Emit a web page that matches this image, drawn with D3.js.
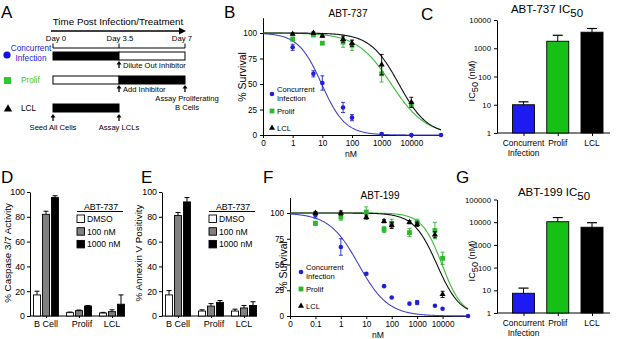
<!DOCTYPE html>
<html>
<head>
<meta charset="utf-8">
<script src="https://cdn.jsdelivr.net/npm/d3@7"></script>
<style>
body { margin: 0; background: #fff; }
svg text { font-family: "Liberation Sans", Arial, sans-serif; }
</style>
</head>
<body>
<script>
// ---- DATA ----
// panel A timeline
const timelineDays = [0, 3.5, 7];
const timelineDayLabels = ["Day 0", "Day 3.5", "Day 7"];
const conditionNames = ["Concurrent Infection", "Prolif", "LCL"];

// panel B (ABT-737 dose response)
const doseB_conc = [1, 5, 10, 50, 100, 1000, 10000, 100000];
const survB_conc = [86, 60, 51, 27, 17, 1, 0, 0];
const errB_conc = [3, 3, 7, 5, 3, 1, 0.5, 0];
const doseB = [1, 5, 10, 50, 100, 1000, 10000];
const survB_prolif = [94, 98, 90, 91, 88, 60, 30];
const errB_prolif = [2, 1, 1, 5, 5, 8, 3];
const survB_lcl = [99, 100, 97, 94, 90, 69, 32];
const errB_lcl = [1, 1, 1, 3, 3, 10, 5];
// fitted curve params [IC50, hill] conc / prolif / lcl
const fitB = [[9.5, 1.1], [2100, 0.75], [3800, 0.9]];

// panel C (ABT-737 IC50)
const icCats = ["Concurrent Infection", "Prolif", "LCL"];
const ic50_737 = [10, 1770, 3700];
const ic50_737_hi = [12.7, 2880, 5000];

// panel D / E
const groups = ["B Cell", "Prolif", "LCL"];
const treatments = ["DMSO", "100 nM", "1000 nM"];
const caspase = [[17, 82, 95.5], [2.7, 4.3, 8], [2.4, 3.5, 9.5]];
const caspaseErr = [[3, 2.5, 1.5], [0.5, 0.5, 0.5], [0.5, 1.5, 7.5]];
const annexin = [[17, 81, 92], [4, 8, 11], [4, 6.5, 8.5]];
const annexinErr = [[3.5, 2.5, 3.5], [1, 2, 1.5], [1.5, 2, 3]];

// panel F (ABT-199 dose response)
const doseF_conc = [0.1, 1, 10, 50, 100, 500, 1000, 5000, 10000, 100000];
const survF_conc = [98, 67, 41, 29, 18, 12, 13, 10, 7, 0];
const errF_conc = [3, 8, 1, 0.5, 0.5, 0.5, 2, 0.5, 0.5, 0];
const doseF = [0.1, 1, 10, 50, 100, 500, 1000, 5000, 10000];
const survF_prolif = [90, 96, 101, 84, 90, 81, 91, 83, 56];
const errF_prolif = [2, 3, 5, 3, 4, 4, 3, 8, 6];
const survF_lcl = [100, 100, 96, 92, 88, 91, 89, 79, 21];
const errF_lcl = [1, 2, 2, 1.5, 3, 1.5, 2, 3, 3];
const fitF = [[5, 0.75], [9500, 1.1], [6000, 0.95]];

// panel G (ABT-199 IC50)
const ic50_199 = [7.4, 10500, 6000];
const ic50_199_hi = [12.5, 16000, 9500];

// ---- STYLE ----
const BLUE = "#1f1fd6", GREEN = "#2cb82c", BLACK = "#000";
const LINE_BLUE = "#4646c8", LINE_GREEN = "#3cbc3c";
const FONT = "'Liberation Sans', Arial, sans-serif";

const svg = d3.select("body").append("svg").attr("width", 617).attr("height", 339);

function letter(txt, x, y) {
  svg.append("text").attr("x", x).attr("y", y).attr("font-size", 17).text(txt);
}
function styleAxis(g, fs) {
  g.selectAll("text").attr("font-family", FONT).attr("font-size", fs).attr("fill", "#000");
  g.selectAll("path,line").attr("stroke", "#000").attr("stroke-width", 1);
}

// ---------------- PANEL A ----------------
letter("A", 1, 18);
const A = svg.append("g");
const tl = d3.scaleLinear().domain([0, 7]).range([53, 185]);

A.append("text").attr("x", 118).attr("y", 25).attr("text-anchor", "middle")
  .attr("font-size", 9.8).text("Time Post Infection/Treatment");
A.append("line").attr("x1", 51).attr("x2", 181).attr("y1", 31).attr("y2", 31)
  .attr("stroke", "#000").attr("stroke-width", 1.6);
A.append("path").attr("d", "M186,31 L179,27.5 L179,34.5 Z").attr("fill", "#000");

A.selectAll(".day").data(timelineDays).enter().append("text")
  .attr("x", (d, i) => tl(d) + (i == 0 ? 3 : i == 2 ? -3 : 1))
  .attr("y", 41).attr("text-anchor", "middle").attr("font-size", 7.8)
  .text((d, i) => timelineDayLabels[i]);
A.append("line").attr("x1", tl(0)).attr("x2", tl(7)).attr("y1", 48).attr("y2", 48).attr("stroke", "#000");
A.selectAll(".dtick").data(timelineDays).enter().append("line")
  .attr("x1", d => tl(d)).attr("x2", d => tl(d)).attr("y1", 43.5).attr("y2", 48).attr("stroke", "#000");

const rowY = [52, 76, 104];
const segments = [
  [[0, 3.5, "#000"], [3.5, 7, "#fff"]],
  [[0, 3.5, "#fff"], [3.5, 7, "#000"]],
  [[0, 3.5, "#000"]]
];
segments.forEach((segs, r) => {
  segs.forEach(s => {
    A.append("rect").attr("x", tl(s[0])).attr("y", rowY[r])
      .attr("width", tl(s[1]) - tl(s[0])).attr("height", 8)
      .attr("fill", s[2]).attr("stroke", "#000").attr("stroke-width", 1);
  });
});
// row labels + symbols
A.append("circle").attr("cx", 7).attr("cy", 55).attr("r", 3.6).attr("fill", "#1010e6");
A.append("text").attr("x", 31).attr("y", 51).attr("text-anchor", "middle").attr("font-size", 8.2)
  .attr("fill", "#2020d8").text("Concurrent");
A.append("text").attr("x", 31).attr("y", 61).attr("text-anchor", "middle").attr("font-size", 8.2)
  .attr("fill", "#2020d8").text("Infection");
A.append("rect").attr("x", 4).attr("y", 77).attr("width", 7).attr("height", 7).attr("fill", "#2ec82e");
A.append("text").attr("x", 21).attr("y", 83).attr("font-size", 8.2).attr("fill", "#2ec82e").text(conditionNames[1]);
A.append("path").attr("d", d3.symbol(d3.symbolTriangle, 30)()).attr("transform", "translate(8,109)");
A.append("text").attr("x", 21).attr("y", 111).attr("font-size", 8.2).text(conditionNames[2]);

function upArrow(x, y1, y2) {
  A.append("line").attr("x1", x).attr("x2", x).attr("y1", y1 + 2).attr("y2", y2)
    .attr("stroke", "#000").attr("stroke-width", 1.3);
  A.append("path").attr("d", `M${x},${y1} L${x - 2.5},${y1 + 3.5} L${x + 2.5},${y1 + 3.5} Z`).attr("fill", "#000");
}
const notes = [
  { day: 3.5, y: 61, text: ["Dilute Out Inhibitor"], dx: 4, anchor: "start", ty: 68 },
  { day: 3.5, y: 85, text: ["Add Inhibitor"], dx: 4, anchor: "start", ty: 92 },
  { day: 7, y: 85, text: ["Assay Proliferating", "B Cells"], dx: 2, anchor: "middle", ty: 101 },
  { day: 0, y: 114, text: ["Seed All Cells"], dx: 0, anchor: "middle", ty: 130 },
  { day: 3.5, y: 114, text: ["Assay LCLs"], dx: 0, anchor: "middle", ty: 130 }
];
notes.forEach(n => {
  upArrow(tl(n.day), n.y, n.y + 7);
  n.text.forEach((t, i) => {
    A.append("text").attr("x", tl(n.day) + n.dx).attr("y", n.ty + i * 9)
      .attr("text-anchor", n.anchor).attr("font-size", 7.6).text(t);
  });
});

// ---------------- DOSE RESPONSE PANELS ----------------
function hillCurve(p, dom) {
  const pts = [];
  const l0 = Math.log10(dom[0]), l1 = Math.log10(dom[1]);
  for (let i = 0; i <= 200; i++) {
    const x = Math.pow(10, l0 + (l1 - l0) * i / 200);
    pts.push([x, 100 / (1 + Math.pow(x / p[0], p[1]))]);
  }
  return pts;
}

function marker(g, shape, color, x, y) {
  if (shape == "circle") g.append("circle").attr("cx", x).attr("cy", y).attr("r", 2.3).attr("fill", color);
  else if (shape == "square") g.append("rect").attr("x", x - 2.4).attr("y", y - 2.4).attr("width", 4.8).attr("height", 4.8).attr("fill", color);
  else g.append("path").attr("d", d3.symbol(d3.symbolTriangle, 16)()).attr("transform", `translate(${x},${y})`).attr("fill", color);
}

function dosePanel(cfg) {
  const g = svg.append("g");
  const X = d3.scaleLog().domain(cfg.domain).range(cfg.xr);
  const Y = d3.scaleLinear().domain([0, 115]).range([cfg.y0, cfg.y0 - cfg.h100 * 1.15]);

  const xa = g.append("g").attr("transform", `translate(0,${cfg.y0})`)
    .call(d3.axisBottom(X).tickValues(cfg.ticks).tickFormat((d, i) => cfg.tickLabels[i]).tickSize(3).tickPadding(2).tickSizeOuter(0));
  styleAxis(xa, 8.2);
  const ya = g.append("g").attr("transform", `translate(${cfg.xr[0]},0)`)
    .call(d3.axisLeft(Y).tickValues([0, 25, 50, 75, 100]).tickSize(3).tickSizeOuter(0));
  styleAxis(ya, 8.2);

  g.append("text").attr("x", cfg.title[0]).attr("y", cfg.title[1]).attr("text-anchor", "middle")
    .attr("font-size", 10).text(cfg.titleText);
  g.append("text").attr("x", cfg.nm[0]).attr("y", cfg.nm[1]).attr("text-anchor", "middle")
    .attr("font-size", 8.6).text("nM");
  g.append("text").attr("transform", `translate(${cfg.ylab[0]},${cfg.ylab[1]}) rotate(-90)`)
    .attr("text-anchor", "middle").attr("font-size", 10.5).text("% Survival");

  const line = d3.line().x(d => X(d[0])).y(d => Y(d[1]));
  cfg.series.forEach(s => {
    g.append("path").datum(hillCurve(s.fit, cfg.domain)).attr("d", line)
      .attr("fill", "none").attr("stroke", s.line).attr("stroke-width", 1.1);
  });
  cfg.series.forEach(s => {
    s.dose.forEach((d, i) => {
      const x = X(d), e = s.err[i];
      if (e > 0.6) {
        const ya1 = Y(s.val[i] - e), ya2 = Y(s.val[i] + e);
        g.append("line").attr("x1", x).attr("x2", x).attr("y1", ya1).attr("y2", ya2).attr("stroke", s.color).attr("stroke-width", 0.9);
        [ya1, ya2].forEach(yy => g.append("line").attr("x1", x - 2).attr("x2", x + 2).attr("y1", yy).attr("y2", yy)
          .attr("stroke", s.color).attr("stroke-width", 0.9));
      }
      marker(g, s.shape, s.color, x, Y(s.val[i]));
    });
  });
  // legend
  const L = cfg.legend;
  marker(g, "circle", BLUE, L[0], L[1]);
  g.append("text").attr("x", L[0] + 5).attr("y", L[1] - 2).attr("font-size", 7.6).text("Concurrent");
  g.append("text").attr("x", L[0] + 5).attr("y", L[1] + 7).attr("font-size", 7.6).text("Infection");
  marker(g, "square", GREEN, L[0], L[1] + 17);
  g.append("text").attr("x", L[0] + 5).attr("y", L[1] + 20).attr("font-size", 7.6).text("Prolif");
  marker(g, "triangle", BLACK, L[0], L[1] + 34);
  g.append("text").attr("x", L[0] + 5).attr("y", L[1] + 36.5).attr("font-size", 7.6).text("LCL");
}

letter("B", 224, 18);
dosePanel({
  domain: [0.1, 100000], xr: [263, 441], y0: 135, h100: 102,
  ticks: [0.1, 1, 10, 100, 1000, 10000], tickLabels: ["0", "1", "10", "100", "1000", "10000"],
  title: [348, 17], titleText: "ABT-737", nm: [351, 156.5], ylab: [246, 77], legend: [272, 94],
  series: [
    { dose: doseB_conc, val: survB_conc, err: errB_conc, color: BLUE, line: LINE_BLUE, shape: "circle", fit: fitB[0] },
    { dose: doseB, val: survB_prolif, err: errB_prolif, color: GREEN, line: LINE_GREEN, shape: "square", fit: fitB[1] },
    { dose: doseB, val: survB_lcl, err: errB_lcl, color: BLACK, line: "#111", shape: "triangle", fit: fitB[2] }
  ]
});

letter("F", 263, 183);
dosePanel({
  domain: [0.01, 100000], xr: [290, 468], y0: 316, h100: 103,
  ticks: [0.01, 0.1, 1, 10, 100, 1000, 10000], tickLabels: ["0", "0.1", "1", "10", "100", "1000", "10000"],
  title: [380, 199], titleText: "ABT-199", nm: [378, 337.5], ylab: [287, 266], legend: [301, 272],
  series: [
    { dose: doseF_conc, val: survF_conc, err: errF_conc, color: BLUE, line: LINE_BLUE, shape: "circle", fit: fitF[0] },
    { dose: doseF, val: survF_prolif, err: errF_prolif, color: GREEN, line: LINE_GREEN, shape: "square", fit: fitF[1] },
    { dose: doseF, val: survF_lcl, err: errF_lcl, color: BLACK, line: "#111", shape: "triangle", fit: fitF[2] }
  ]
});

// ---------------- IC50 PANELS ----------------
const barColors = ["#1c1cf0", "#16c016", "#000"];
function icPanel(cfg) {
  const g = svg.append("g");
  const Y = d3.scaleLog().domain(cfg.domain).range([cfg.y0, cfg.ytop]);
  const X = d3.scalePoint().domain(icCats).range([523.5, 592]);
  const bw = 22;
  const ya = g.append("g").attr("transform", "translate(497,0)")
    .call(d3.axisLeft(Y).tickValues(cfg.ticks).tickFormat(d3.format("d")).tickSize(3).tickSizeOuter(0));
  styleAxis(ya, 7.8);
  const xa = g.append("g").attr("transform", `translate(0,${cfg.y0})`)
    .call(d3.axisBottom(X).tickSize(3).tickFormat(""));
  styleAxis(xa, 7.5);
  xa.select(".domain").attr("d", `M497,0H610`);

  icCats.forEach((c, i) => {
    const x = X(c);
    g.append("line").attr("x1", x).attr("x2", x).attr("y1", Y(cfg.vals[i])).attr("y2", Y(cfg.hi[i])).attr("stroke", "#000");
    g.append("line").attr("x1", x - 5).attr("x2", x + 5).attr("y1", Y(cfg.hi[i])).attr("y2", Y(cfg.hi[i])).attr("stroke", "#000").attr("stroke-width", 1.2);
    g.append("rect").attr("x", x - bw / 2).attr("y", Y(cfg.vals[i])).attr("width", bw)
      .attr("height", cfg.y0 - Y(cfg.vals[i])).attr("fill", barColors[i]).attr("stroke", "#000").attr("stroke-width", 0.9);
    const words = c.split(" ");
    words.forEach((w, j) => g.append("text").attr("x", x).attr("y", cfg.y0 + 12.5 + j * 10)
      .attr("text-anchor", "middle").attr("font-size", 8.4).text(w));
  });
  const t = g.append("text").attr("x", cfg.title[0]).attr("y", cfg.title[1]).attr("text-anchor", "middle").attr("font-size", 11.5);
  t.append("tspan").text(cfg.titleText + " IC");
  t.append("tspan").attr("dy", 3.5).text("50");
  const yl = g.append("text").attr("transform", `translate(${cfg.ylab[0]},${cfg.ylab[1]}) rotate(-90)`)
    .attr("text-anchor", "middle").attr("font-size", 9.2);
  yl.append("tspan").text("IC");
  yl.append("tspan").attr("dy", 3).text("50");
  yl.append("tspan").attr("dy", -3).text(" (nM)");
}

letter("C", 421, 20);
icPanel({ domain: [1, 10000], y0: 133, ytop: 20, ticks: [1, 10, 100, 1000, 10000],
  vals: ic50_737, hi: ic50_737_hi, title: [547, 13], titleText: "ABT-737", ylab: [475, 81] });
letter("G", 456, 183);
icPanel({ domain: [1, 100000], y0: 313, ytop: 199.5, ticks: [1, 10, 100, 1000, 10000, 100000],
  vals: ic50_199, hi: ic50_199_hi, title: [554, 196], titleText: "ABT-199", ylab: [475, 261] });

// ---------------- D / E GROUPED BARS ----------------
const treatFill = ["#fff", "#808080", "#000"];
function groupPanel(cfg) {
  const g = svg.append("g");
  const ax = cfg.ax;
  const Y = d3.scaleLinear().domain([0, 100]).range([316, 192]);
  const X = d3.scalePoint().domain(groups).range([ax + 16, ax + 82]);
  const sub = d3.scalePoint().domain(treatments).range([-9, 9]);
  const bw = 7;
  const ya = g.append("g").attr("transform", `translate(${ax},0)`)
    .call(d3.axisLeft(Y).ticks(5).tickSize(3).tickPadding(2).tickSizeOuter(0));
  styleAxis(ya, 8.8);
  const xa = g.append("g").attr("transform", "translate(0,316)")
    .call(d3.axisBottom(X).tickSize(2).tickFormat(""));
  styleAxis(xa, 9);
  xa.select(".domain").attr("d", `M${ax},0H${ax + 95}`);

  groups.forEach((grp, gi) => {
    treatments.forEach((tr, ti) => {
      const x = X(grp) + sub(tr), v = cfg.vals[gi][ti], e = cfg.err[gi][ti];
      g.append("line").attr("x1", x).attr("x2", x).attr("y1", Y(v)).attr("y2", Y(v + e)).attr("stroke", "#000");
      g.append("line").attr("x1", x - 2.5).attr("x2", x + 2.5).attr("y1", Y(v + e)).attr("y2", Y(v + e)).attr("stroke", "#000");
      g.append("rect").attr("x", x - bw / 2).attr("y", Y(v)).attr("width", bw).attr("height", 316 - Y(v))
        .attr("fill", treatFill[ti]).attr("stroke", "#000").attr("stroke-width", 0.9);
    });
    g.append("text").attr("x", X(grp) + (gi == 1 ? 3 : 0)).attr("y", 327).attr("text-anchor", "middle")
      .attr("font-size", 9).text(grp);
  });
  g.append("text").attr("transform", `translate(${cfg.ylabX},253) rotate(-90)`)
    .attr("text-anchor", "middle").attr("font-size", 9.8).text(cfg.ylab);
  // legend
  const lx = ax + 47;
  g.append("text").attr("x", lx + 24).attr("y", 209.5).attr("text-anchor", "middle").attr("font-size", 8.8).text("ABT-737");
  g.append("line").attr("x1", lx).attr("x2", lx + 46).attr("y1", 211.5).attr("y2", 211.5).attr("stroke", "#000");
  treatments.forEach((tr, ti) => {
    g.append("rect").attr("x", lx).attr("y", 215 + ti * 12.7).attr("width", 7.5).attr("height", 7.5)
      .attr("fill", treatFill[ti]).attr("stroke", "#000").attr("stroke-width", 0.9);
    g.append("text").attr("x", lx + 10).attr("y", 222 + ti * 12.7).attr("font-size", 8.6).text(tr);
  });
}

letter("D", 1, 183);
groupPanel({ ax: 30, ylabX: 11, vals: caspase, err: caspaseErr, ylab: "% Caspase 3/7 Activity" });
letter("E", 141, 183);
groupPanel({ ax: 162, ylabX: 142, vals: annexin, err: annexinErr, ylab: "% Annexin V Positivity" });
</script>
</body>
</html>
